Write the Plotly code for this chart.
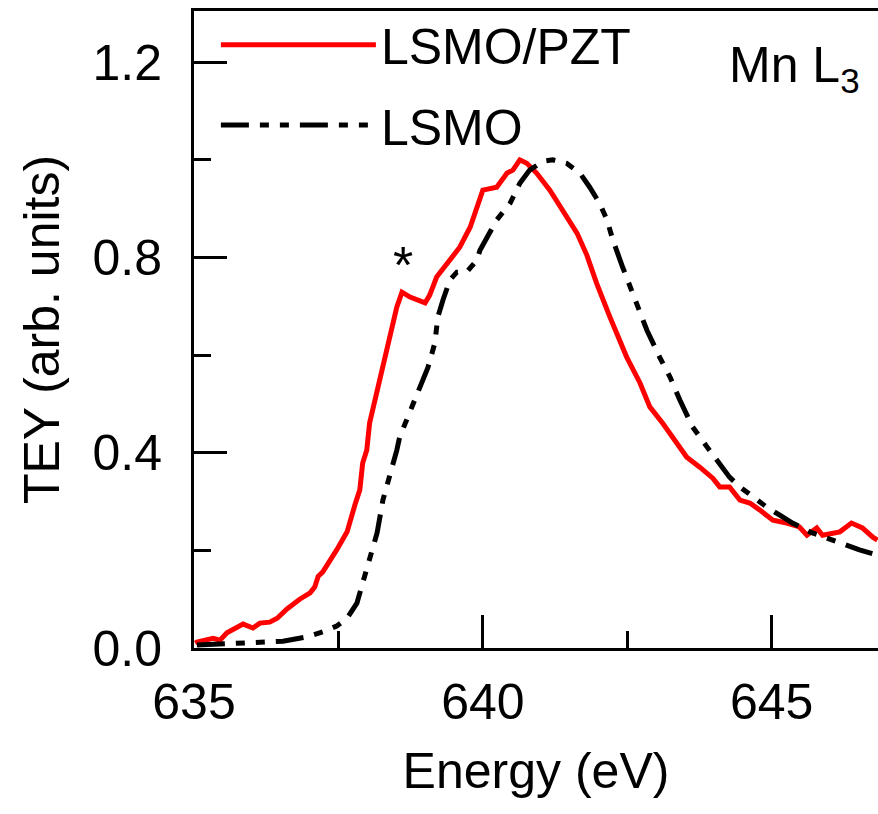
import plotly.graph_objects as go

# LSMO/PZT (red solid)
pzt_energy = [635.02, 635.05, 635.33, 635.45, 635.57, 635.85, 636.02, 636.14, 636.31, 636.44,
              636.61, 636.83, 637.01, 637.09, 637.15, 637.23, 637.47, 637.65, 637.79, 637.87,
              637.92, 637.99, 638.04, 638.22, 638.39, 638.51, 638.60, 638.74, 639.00, 639.08,
              639.20, 639.38, 639.52, 639.60, 639.78, 640.00, 640.24, 640.42, 640.52, 640.64,
              640.76, 640.93, 641.16, 641.38, 641.63, 641.80, 641.97, 642.20, 642.32, 642.49,
              642.72, 642.89, 643.11, 643.36, 643.53, 643.75, 643.98, 644.10, 644.27, 644.45,
              644.62, 644.79, 645.02, 645.26, 645.48, 645.61, 645.78, 645.88, 646.06, 646.18,
              646.38, 646.57, 646.75, 646.83]
pzt_tey = [0.010, 0.012, 0.020, 0.016, 0.031, 0.049, 0.041, 0.051, 0.053, 0.061,
           0.080, 0.100, 0.113, 0.125, 0.147, 0.156, 0.201, 0.238, 0.295, 0.324,
           0.379, 0.405, 0.461, 0.555, 0.637, 0.698, 0.729, 0.719, 0.707, 0.723,
           0.760, 0.788, 0.811, 0.821, 0.862, 0.938, 0.944, 0.973, 0.979, 1.000,
           0.993, 0.973, 0.938, 0.897, 0.850, 0.805, 0.747, 0.678, 0.645, 0.596,
           0.543, 0.494, 0.461, 0.420, 0.391, 0.371, 0.348, 0.330, 0.330, 0.303,
           0.297, 0.283, 0.262, 0.256, 0.248, 0.231, 0.246, 0.231, 0.236, 0.238,
           0.256, 0.246, 0.227, 0.221]

# LSMO (black dash-dot-dot)
lsmo_energy = [635.05, 635.50, 636.09, 636.54, 636.96, 637.23, 637.47, 637.65, 637.82, 637.92,
               638.04, 638.17, 638.27, 638.39, 638.51, 638.56, 638.74, 638.88, 639.05, 639.17,
               639.22, 639.31, 639.43, 639.55, 639.72, 639.90, 639.95, 640.24, 640.47, 640.64,
               640.81, 641.04, 641.21, 641.45, 641.68, 641.85, 642.02, 642.15, 642.25, 642.42,
               642.63, 642.84, 643.06, 643.24, 643.41, 643.63, 643.88, 644.10, 644.27, 644.45,
               644.67, 644.91, 645.14, 645.36, 645.66, 645.95, 646.23, 646.52, 646.83]
lsmo_tey = [0.006, 0.008, 0.010, 0.014, 0.023, 0.033, 0.045, 0.061, 0.092, 0.133,
            0.186, 0.236, 0.303, 0.350, 0.405, 0.432, 0.487, 0.528, 0.575, 0.625,
            0.678, 0.713, 0.754, 0.770, 0.770, 0.795, 0.815, 0.877, 0.911, 0.952,
            0.979, 0.997, 1.000, 0.993, 0.973, 0.944, 0.911, 0.877, 0.836, 0.780,
            0.713, 0.651, 0.596, 0.555, 0.508, 0.453, 0.412, 0.379, 0.350, 0.330,
            0.309, 0.289, 0.272, 0.256, 0.238, 0.225, 0.215, 0.201, 0.190]

x_tickvals = [635, 640, 645]
y_tickvals = [0.0, 0.4, 0.8, 1.2]
y_ticktext = ["0.0", "0.4", "0.8", "1.2"]

FONT = "Liberation Sans, Arial, sans-serif"
FS = 50

fig = go.Figure()
fig.add_trace(go.Scatter(x=pzt_energy, y=pzt_tey, mode="lines", name="LSMO/PZT",
                         legend="legend",
                         line=dict(color="#ff0000", width=5)))
fig.add_trace(go.Scatter(x=lsmo_energy, y=lsmo_tey, mode="lines", name="LSMO",
                         legend="legend2",
                         line=dict(color="black", width=5,
                                   dash="28px,11px,9px,11px,9px,11px")))

fig.add_annotation(x=638.62, y=0.785, text="*", showarrow=False,
                   font=dict(size=52, color="black", family=FONT))
fig.add_annotation(x=0.977, y=0.962, xref="paper", yref="paper", xanchor="right", yanchor="top",
                   text="Mn L<sub>3</sub>",
                   showarrow=False, font=dict(size=FS, color="black", family=FONT))

axis_common = dict(showline=True, linecolor="black", linewidth=3, ticks="inside",
                   tickwidth=3, ticklen=33, tickcolor="black", showgrid=False,
                   zeroline=False, automargin=False,
                   tickfont=dict(size=FS, color="black", family=FONT))

fig.update_xaxes(range=[635, 646.84], tickvals=x_tickvals, mirror=True,
                 minor=dict(ticks="inside", ticklen=17, tickwidth=3, tickcolor="black", dtick=2.5, tick0=635),
                 ticklabelstandoff=8,
                 title=dict(text="Energy (eV)", font=dict(size=FS, color="black", family=FONT), standoff=24),
                 **axis_common)
fig.update_yaxes(range=[0, 1.305], tickvals=y_tickvals, ticktext=y_ticktext,
                 minor=dict(ticks="inside", ticklen=17, tickwidth=3, tickcolor="black", dtick=0.2, tick0=0),
                 ticklabelstandoff=19,
                 title=dict(text="TEY (arb. units)", font=dict(size=FS, color="black", family=FONT), standoff=17),
                 **axis_common)

leg_common = dict(xanchor="left", yanchor="middle", itemwidth=155,
                  font=dict(size=FS, color="black", family=FONT),
                  bgcolor="rgba(0,0,0,0)", borderwidth=0)

fig.update_layout(width=878, height=814, plot_bgcolor="white", paper_bgcolor="white",
                  margin=dict(l=194, r=0, t=11, b=166),
                  showlegend=True,
                  legend=dict(x=0.032, y=0.947, **leg_common),
                  legend2=dict(x=0.032, y=0.821, **leg_common))

fig.write_html("out.html", config={"displayModeBar": False},
               post_script="document.body.style.margin='0';")
